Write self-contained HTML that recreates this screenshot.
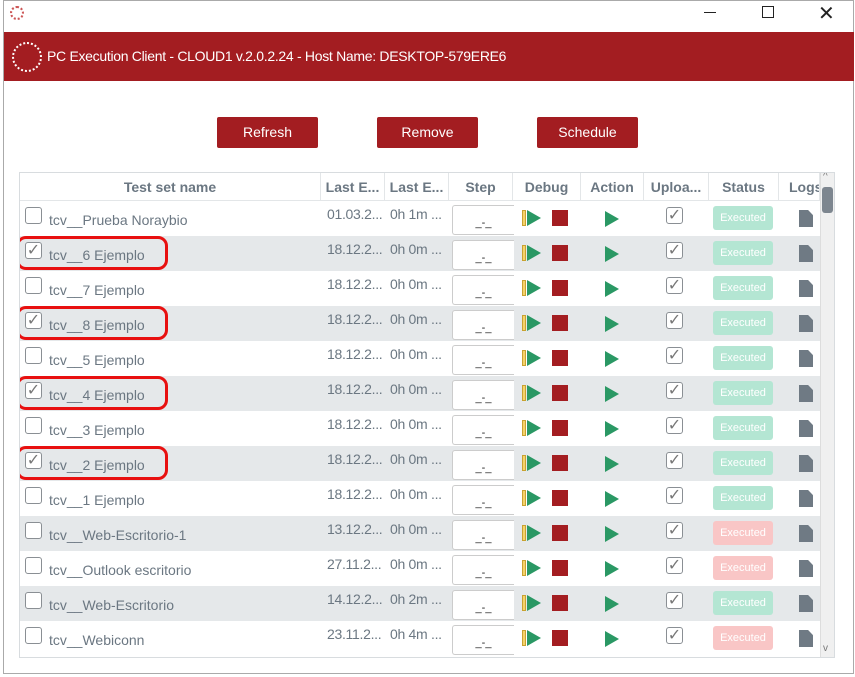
<!DOCTYPE html><html><head><meta charset="utf-8"><style>
*{margin:0;padding:0;box-sizing:border-box}
body{width:855px;height:677px;background:#fff;position:relative;overflow:hidden;font-family:"Liberation Sans",sans-serif;}
.a{position:absolute}
.win{left:3px;top:0;width:851px;height:674px;border:1px solid #aaa;}
.bar{left:4px;top:32px;width:850px;height:49px;background:#a31d21;color:#fff;font-size:14px;letter-spacing:-0.3px;line-height:49px;padding-left:43px}
.btn{top:117px;width:101px;height:31px;background:#a31d21;color:#fff;font-size:14px;text-align:center;line-height:31px;border-radius:2px}
.tbl{left:19px;top:172px;width:816px;height:486px;border:1px solid #d8dcdf;overflow:hidden}
.hd{top:0;height:28px;font-size:14px;font-weight:bold;color:#6b7782;text-align:center;line-height:28px;border-right:1px solid #e3e6e8;border-bottom:1px solid #e3e6e8;white-space:nowrap;overflow:hidden}
.r{left:0;width:800px;height:35px}
.g{background:#e5e8ea}
.cb{width:17px;height:17px;border:1px solid #8a8f94;border-radius:3px;background:#fff;font-size:16px;color:#777;text-align:center;line-height:16px}
.nm{left:29px;top:11px;font-size:14px;color:#6b7782}
.dt{top:5px;font-size:14px;color:#6b7782;letter-spacing:-0.3px}
.st{left:432px;top:4px;width:62px;height:30px;background:#fff;border:1px solid #ccc;border-right:none;border-radius:3px 0 0 3px;text-align:center;font-size:11px;padding-top:11px;color:#222}
.yb{left:502px;top:9px;width:4px;height:16px;background:#f5d26b;border:1px solid #c9a230}
.tr{width:0;height:0;border-top:8px solid transparent;border-bottom:8px solid transparent;border-left:14px solid #2a9864}
.sq{left:532px;top:9px;width:16px;height:16px;background:#a31d21}
.ex{left:693px;top:5px;width:60px;height:24px;border-radius:3px;color:#fff;font-size:11px;text-align:center;line-height:24px}
.gr{background:#b4e6d3}.rd{background:#f9c6c6}
.lg{left:779px;top:9px;width:14px;height:17px;background:#6f7a84;clip-path:polygon(0 0,65% 0,100% 30%,100% 100%,0 100%)}
.ov{left:-4px;top:0px;width:152px;height:34px;border:3px solid #e81010;border-radius:10px}
</style></head><body>
<div class="a win"></div>
<div class="a" style="left:10px;top:6px;width:14px;height:14px;border:2px dotted #c55;border-radius:50%"></div>
<div class="a" style="left:704px;top:12px;width:12px;height:1px;background:#222"></div>
<div class="a" style="left:762px;top:6px;width:12px;height:12px;border:1px solid #222"></div>
<div class="a" style="left:818px;top:1px;font-size:20px;color:#222">✕</div>
<div class="a bar">PC Execution Client - CLOUD1 v.2.0.2.24 - Host Name: DESKTOP-579ERE6</div>
<div class="a" style="left:12px;top:42px;width:30px;height:30px;border:2px dotted #fff;border-radius:50%"></div>
<div class="a btn" style="left:217px">Refresh</div>
<div class="a btn" style="left:377px">Remove</div>
<div class="a btn" style="left:537px">Schedule</div>
<div class="a tbl">
<div class="a hd" style="left:0;width:301px">Test set name</div>
<div class="a hd" style="left:301px;width:64px">Last E...</div>
<div class="a hd" style="left:365px;width:64px">Last E...</div>
<div class="a hd" style="left:429px;width:64px">Step</div>
<div class="a hd" style="left:493px;width:68px">Debug</div>
<div class="a hd" style="left:561px;width:63px">Action</div>
<div class="a hd" style="left:624px;width:65px">Uploa...</div>
<div class="a hd" style="left:689px;width:70px">Status</div>
<div class="a hd" style="left:759px;width:41px;text-align:left;padding-left:10px">Logs</div>
<div class="a" style="left:800px;top:0;width:15px;height:486px;background:#f0f0f0;border-left:1px solid #ddd"></div>
<div class="a" style="left:802px;top:14px;width:11px;height:26px;background:#7d868f;border-radius:3px"></div>
<div class="a" style="left:803px;top:-2px;font-size:10px;color:#777">^</div>
<div class="a" style="left:803px;top:470px;font-size:10px;color:#777">v</div>

<div class="a r" style="top:28px"><div class="a cb" style="left:5px;top:6px"></div><div class="a nm">tcv__Prueba Noraybio</div><div class="a dt" style="left:307px">01.03.2...</div><div class="a dt" style="left:370px">0h 1m ...</div><div class="a st">_-_</div><div class="a yb"></div><div class="a tr" style="left:507px;top:9px"></div><div class="a sq"></div><div class="a tr" style="left:585px;top:10px"></div><div class="a cb" style="left:646px;top:6px">✓</div><div class="a ex gr">Executed</div><div class="a lg"></div></div>
<div class="a r g" style="top:63px"><div class="a cb" style="left:5px;top:6px">✓</div><div class="a nm">tcv__6 Ejemplo</div><div class="a dt" style="left:307px">18.12.2...</div><div class="a dt" style="left:370px">0h 0m ...</div><div class="a st">_-_</div><div class="a yb"></div><div class="a tr" style="left:507px;top:9px"></div><div class="a sq"></div><div class="a tr" style="left:585px;top:10px"></div><div class="a cb" style="left:646px;top:6px">✓</div><div class="a ex gr">Executed</div><div class="a lg"></div><div class="a ov"></div></div>
<div class="a r" style="top:98px"><div class="a cb" style="left:5px;top:6px"></div><div class="a nm">tcv__7 Ejemplo</div><div class="a dt" style="left:307px">18.12.2...</div><div class="a dt" style="left:370px">0h 0m ...</div><div class="a st">_-_</div><div class="a yb"></div><div class="a tr" style="left:507px;top:9px"></div><div class="a sq"></div><div class="a tr" style="left:585px;top:10px"></div><div class="a cb" style="left:646px;top:6px">✓</div><div class="a ex gr">Executed</div><div class="a lg"></div></div>
<div class="a r g" style="top:133px"><div class="a cb" style="left:5px;top:6px">✓</div><div class="a nm">tcv__8 Ejemplo</div><div class="a dt" style="left:307px">18.12.2...</div><div class="a dt" style="left:370px">0h 0m ...</div><div class="a st">_-_</div><div class="a yb"></div><div class="a tr" style="left:507px;top:9px"></div><div class="a sq"></div><div class="a tr" style="left:585px;top:10px"></div><div class="a cb" style="left:646px;top:6px">✓</div><div class="a ex gr">Executed</div><div class="a lg"></div><div class="a ov"></div></div>
<div class="a r" style="top:168px"><div class="a cb" style="left:5px;top:6px"></div><div class="a nm">tcv__5 Ejemplo</div><div class="a dt" style="left:307px">18.12.2...</div><div class="a dt" style="left:370px">0h 0m ...</div><div class="a st">_-_</div><div class="a yb"></div><div class="a tr" style="left:507px;top:9px"></div><div class="a sq"></div><div class="a tr" style="left:585px;top:10px"></div><div class="a cb" style="left:646px;top:6px">✓</div><div class="a ex gr">Executed</div><div class="a lg"></div></div>
<div class="a r g" style="top:203px"><div class="a cb" style="left:5px;top:6px">✓</div><div class="a nm">tcv__4 Ejemplo</div><div class="a dt" style="left:307px">18.12.2...</div><div class="a dt" style="left:370px">0h 0m ...</div><div class="a st">_-_</div><div class="a yb"></div><div class="a tr" style="left:507px;top:9px"></div><div class="a sq"></div><div class="a tr" style="left:585px;top:10px"></div><div class="a cb" style="left:646px;top:6px">✓</div><div class="a ex gr">Executed</div><div class="a lg"></div><div class="a ov"></div></div>
<div class="a r" style="top:238px"><div class="a cb" style="left:5px;top:6px"></div><div class="a nm">tcv__3 Ejemplo</div><div class="a dt" style="left:307px">18.12.2...</div><div class="a dt" style="left:370px">0h 0m ...</div><div class="a st">_-_</div><div class="a yb"></div><div class="a tr" style="left:507px;top:9px"></div><div class="a sq"></div><div class="a tr" style="left:585px;top:10px"></div><div class="a cb" style="left:646px;top:6px">✓</div><div class="a ex gr">Executed</div><div class="a lg"></div></div>
<div class="a r g" style="top:273px"><div class="a cb" style="left:5px;top:6px">✓</div><div class="a nm">tcv__2 Ejemplo</div><div class="a dt" style="left:307px">18.12.2...</div><div class="a dt" style="left:370px">0h 0m ...</div><div class="a st">_-_</div><div class="a yb"></div><div class="a tr" style="left:507px;top:9px"></div><div class="a sq"></div><div class="a tr" style="left:585px;top:10px"></div><div class="a cb" style="left:646px;top:6px">✓</div><div class="a ex gr">Executed</div><div class="a lg"></div><div class="a ov"></div></div>
<div class="a r" style="top:308px"><div class="a cb" style="left:5px;top:6px"></div><div class="a nm">tcv__1 Ejemplo</div><div class="a dt" style="left:307px">18.12.2...</div><div class="a dt" style="left:370px">0h 0m ...</div><div class="a st">_-_</div><div class="a yb"></div><div class="a tr" style="left:507px;top:9px"></div><div class="a sq"></div><div class="a tr" style="left:585px;top:10px"></div><div class="a cb" style="left:646px;top:6px">✓</div><div class="a ex gr">Executed</div><div class="a lg"></div></div>
<div class="a r g" style="top:343px"><div class="a cb" style="left:5px;top:6px"></div><div class="a nm">tcv__Web-Escritorio-1</div><div class="a dt" style="left:307px">13.12.2...</div><div class="a dt" style="left:370px">0h 0m ...</div><div class="a st">_-_</div><div class="a yb"></div><div class="a tr" style="left:507px;top:9px"></div><div class="a sq"></div><div class="a tr" style="left:585px;top:10px"></div><div class="a cb" style="left:646px;top:6px">✓</div><div class="a ex rd">Executed</div><div class="a lg"></div></div>
<div class="a r" style="top:378px"><div class="a cb" style="left:5px;top:6px"></div><div class="a nm">tcv__Outlook escritorio</div><div class="a dt" style="left:307px">27.11.2...</div><div class="a dt" style="left:370px">0h 0m ...</div><div class="a st">_-_</div><div class="a yb"></div><div class="a tr" style="left:507px;top:9px"></div><div class="a sq"></div><div class="a tr" style="left:585px;top:10px"></div><div class="a cb" style="left:646px;top:6px">✓</div><div class="a ex rd">Executed</div><div class="a lg"></div></div>
<div class="a r g" style="top:413px"><div class="a cb" style="left:5px;top:6px"></div><div class="a nm">tcv__Web-Escritorio</div><div class="a dt" style="left:307px">14.12.2...</div><div class="a dt" style="left:370px">0h 2m ...</div><div class="a st">_-_</div><div class="a yb"></div><div class="a tr" style="left:507px;top:9px"></div><div class="a sq"></div><div class="a tr" style="left:585px;top:10px"></div><div class="a cb" style="left:646px;top:6px">✓</div><div class="a ex gr">Executed</div><div class="a lg"></div></div>
<div class="a r" style="top:448px"><div class="a cb" style="left:5px;top:6px"></div><div class="a nm">tcv__Webiconn</div><div class="a dt" style="left:307px">23.11.2...</div><div class="a dt" style="left:370px">0h 4m ...</div><div class="a st">_-_</div><div class="a yb"></div><div class="a tr" style="left:507px;top:9px"></div><div class="a sq"></div><div class="a tr" style="left:585px;top:10px"></div><div class="a cb" style="left:646px;top:6px">✓</div><div class="a ex rd">Executed</div><div class="a lg"></div></div>
</div>
</body></html>
